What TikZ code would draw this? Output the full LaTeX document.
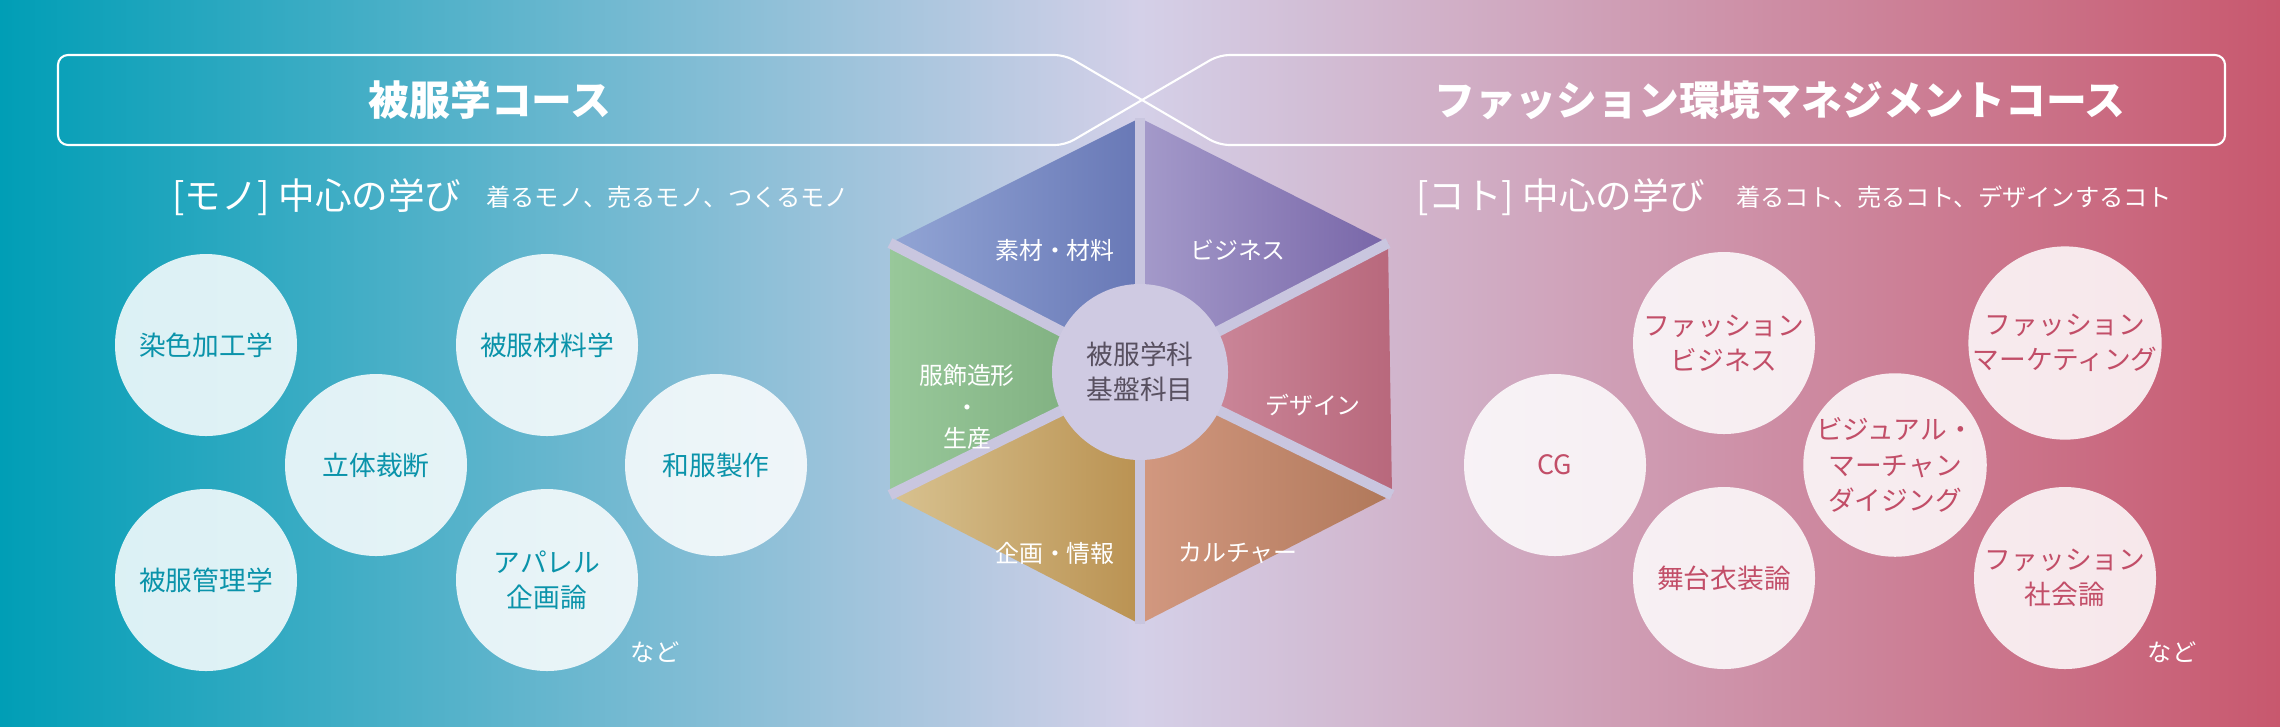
\documentclass[tikz,border=0pt]{standalone}
\usepackage{fontspec}
\setmainfont{Noto Sans CJK JP}
\usetikzlibrary{positioning}
\definecolor{monoC}{HTML}{0A93AA}
\definecolor{kotoC}{HTML}{C24E68}
\definecolor{gapC}{HTML}{C9C6DF}
\definecolor{hubC}{HTML}{CFCAE2}
\tikzset{
  subj/.style={circle, minimum size=182*0.01cm, inner sep=0pt, fill=white, fill opacity=0.85, text opacity=1, align=center, font=\fontsize{7.6}{10}\selectfont},
  mono/.style={subj, text=monoC},
  koto/.style={subj, text=kotoC},
  seg/.style={text=white, align=center, font=\fontsize{6.8}{9}\selectfont},
  head/.style={text=white, font=\fontsize{11.6}{13}\selectfont\bfseries},
  ttl/.style={text=white, anchor=west, font=\fontsize{10.4}{12}\selectfont},
  sub/.style={text=white, anchor=west, font=\fontsize{6.9}{8}\selectfont}
}
\begin{document}
\begin{tikzpicture}[x=0.01cm,y=-0.01cm]
\useasboundingbox (0,0) rectangle (2280,726);
\shade[left color={rgb,255:red,0;green,158;blue,182}, right color={rgb,255:red,200;green,88;blue,110}, middle color={rgb,255:red,212;green,208;blue,232}] (0,0) rectangle (2280,726);
% header bar
\draw[white, line width=0.6pt, rounded corners=0.1cm] (1065,55) -- (58,55) -- (58,145) -- (1065,145) -- (1219,55) -- (2225,55) -- (2225,145) -- (1219,145) -- cycle;
\node[head] (mhead) at (490,100) {被服学コース};
\node[head] (khead) at (1780,100) {ファッション環境マネジメントコース};
\node[ttl] (mttl) at (160,197) {[モノ] 中心の学び};
\node[sub] (msub) at (474,197) {着るモノ、売るモノ、つくるモノ};
\node[ttl] (kttl) at (1404,197) {[コト] 中心の学び};
\node[sub] (ksub) at (1724,197) {着るコト、売るコト、デザインするコト};
% hexagon
\coordinate (hc) at (1140,372);
\coordinate (h1) at (1140,118);
\coordinate (h2) at (1388,243);
\coordinate (h3) at (1392,495);
\coordinate (h4) at (1140,624);
\coordinate (h5) at (890,495);
\coordinate (h6) at (890,243);
\shade[left color={rgb,255:red,146;green,165;blue,213}, right color={rgb,255:red,104;green,120;blue,182}] (hc) -- (h6) -- (h1) -- cycle;
\shade[left color={rgb,255:red,164;green,154;blue,202}, right color={rgb,255:red,120;green,102;blue,168}] (hc) -- (h1) -- (h2) -- cycle;
\shade[left color={rgb,255:red,210;green,146;blue,164}, right color={rgb,255:red,184;green,104;blue,124}] (hc) -- (h2) -- (h3) -- cycle;
\shade[left color={rgb,255:red,210;green,152;blue,128}, right color={rgb,255:red,176;green,120;blue,90}] (hc) -- (h3) -- (h4) -- cycle;
\shade[left color={rgb,255:red,216;green,194;blue,144}, right color={rgb,255:red,186;green,146;blue,82}] (hc) -- (h4) -- (h5) -- cycle;
\shade[left color={rgb,255:red,152;green,200;blue,154}, right color={rgb,255:red,120;green,168;blue,120}] (hc) -- (h5) -- (h6) -- cycle;
\foreach \v in {h1,h2,h3,h4,h5,h6}
  \draw[gapC, line width=3pt] (hc) -- (\v);
\node[circle, fill=hubC, minimum size=176*0.01cm, inner sep=0pt, align=center, text={rgb,255:red,88;green,80;blue,96}, font=\fontsize{7.6}{10}\selectfont] (hub) at (hc) {被服学科\\基盤科目};
\node[seg] (sozai) at (1055,250) {素材・材料};
\node[seg] (biz) at (1238,250) {ビジネス};
\node[seg] (dsn) at (1313,405) {デザイン};
\node[seg] (cul) at (1238,553) {カルチャー};
\node[seg] (kik) at (1055,553) {企画・情報};
\node[seg] (fuk) at (967,407) {服飾造形\\・\\生産};
% mono courses
\node[mono] (senshoku) at (206,345) {染色加工学};
\node[mono] (zairyo) at (547,345) {被服材料学};
\node[mono] (rittai) at (376,465) {立体裁断};
\node[mono] (wafuku) at (716,465) {和服製作};
\node[mono] (kanri) at (206,580) {被服管理学};
\node[mono] (apparel) at (547,580) {アパレル\\企画論};
\node[sub, anchor=center] (mnado) at (655,652) {など};
% koto courses
\node[koto] (fbiz) at (1724,343) {ファッション\\ビジネス};
\node[koto] (fmkt) at (2065,343) {ファッション\\マーケティング};
\node[koto] (cg) at (1555,465) {CG};
\node[koto] (vmd) at (1895,465) {ビジュアル・\\マーチャン\\ダイジング};
\node[koto] (butai) at (1724,578) {舞台衣装論};
\node[koto] (fsoc) at (2065,578) {ファッション\\社会論};
\node[sub, anchor=center] (knado) at (2172,652) {など};
\end{tikzpicture}
\end{document}
